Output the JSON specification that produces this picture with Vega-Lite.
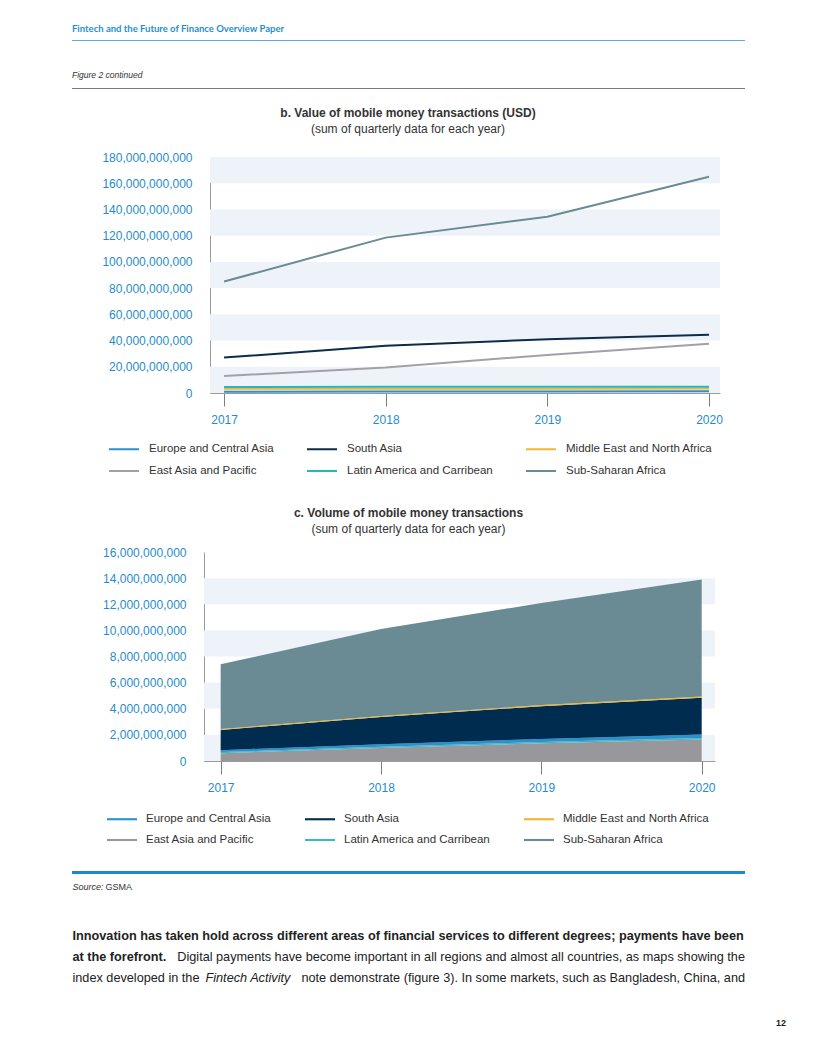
{
  "$schema": "https://vega.github.io/schema/vega-lite/v6.json",
  "background": "white",
  "padding": {"left": 72, "top": 23, "right": 4, "bottom": 4},
  "spacing": 0,
  "bounds": "flush",
  "resolve": {"scale": {"color": "independent"}, "legend": {"color": "independent"}},
  "config": {
    "font": "Liberation Sans",
    "view": {"stroke": null},
    "axisX": {"domainColor": "#9b9b9b", "tickColor": "#7d7d7d", "tickSize": 13, "grid": false, "labelColor": "#1f8ccb", "labelFontSize": 12, "labelPadding": 8, "labelFlush": false},
    "axisY": {"domainColor": "#9b9b9b", "ticks": false, "tickSize": 0, "grid": false, "labelColor": "#1f8ccb", "labelFontSize": 12, "labelPadding": 18},
    "legend": {"symbolSize": 900, "labelFontSize": 11.5, "labelColor": "#333333", "labelOffset": 9, "columnPadding": 28, "rowPadding": -8}
  },
  "datasets": {
    "value_usd": [
      {"region": "Europe and Central Asia", "year": 2017, "value": 1000000000},
      {"region": "Europe and Central Asia", "year": 2018, "value": 1100000000},
      {"region": "Europe and Central Asia", "year": 2019, "value": 1200000000},
      {"region": "Europe and Central Asia", "year": 2020, "value": 1300000000},
      {"region": "South Asia", "year": 2017, "value": 27000000000},
      {"region": "South Asia", "year": 2018, "value": 36000000000},
      {"region": "South Asia", "year": 2019, "value": 41000000000},
      {"region": "South Asia", "year": 2020, "value": 44500000000},
      {"region": "Middle East and North Africa", "year": 2017, "value": 3200000000},
      {"region": "Middle East and North Africa", "year": 2018, "value": 3300000000},
      {"region": "Middle East and North Africa", "year": 2019, "value": 3300000000},
      {"region": "Middle East and North Africa", "year": 2020, "value": 3400000000},
      {"region": "East Asia and Pacific", "year": 2017, "value": 13000000000},
      {"region": "East Asia and Pacific", "year": 2018, "value": 19500000000},
      {"region": "East Asia and Pacific", "year": 2019, "value": 29000000000},
      {"region": "East Asia and Pacific", "year": 2020, "value": 37500000000},
      {"region": "Latin America and Carribean", "year": 2017, "value": 4600000000},
      {"region": "Latin America and Carribean", "year": 2018, "value": 4700000000},
      {"region": "Latin America and Carribean", "year": 2019, "value": 4700000000},
      {"region": "Latin America and Carribean", "year": 2020, "value": 4800000000},
      {"region": "Sub-Saharan Africa", "year": 2017, "value": 85000000000},
      {"region": "Sub-Saharan Africa", "year": 2018, "value": 118500000000},
      {"region": "Sub-Saharan Africa", "year": 2019, "value": 134500000000},
      {"region": "Sub-Saharan Africa", "year": 2020, "value": 165000000000}
    ],
    "volume": [
      {"region": "East Asia and Pacific", "year": 2017, "value": 600000000},
      {"region": "East Asia and Pacific", "year": 2018, "value": 1000000000},
      {"region": "East Asia and Pacific", "year": 2019, "value": 1350000000},
      {"region": "East Asia and Pacific", "year": 2020, "value": 1650000000},
      {"region": "Latin America and Carribean", "year": 2017, "value": 80000000},
      {"region": "Latin America and Carribean", "year": 2018, "value": 90000000},
      {"region": "Latin America and Carribean", "year": 2019, "value": 100000000},
      {"region": "Latin America and Carribean", "year": 2020, "value": 110000000},
      {"region": "Europe and Central Asia", "year": 2017, "value": 150000000},
      {"region": "Europe and Central Asia", "year": 2018, "value": 200000000},
      {"region": "Europe and Central Asia", "year": 2019, "value": 230000000},
      {"region": "Europe and Central Asia", "year": 2020, "value": 260000000},
      {"region": "South Asia", "year": 2017, "value": 1550000000},
      {"region": "South Asia", "year": 2018, "value": 2070000000},
      {"region": "South Asia", "year": 2019, "value": 2520000000},
      {"region": "South Asia", "year": 2020, "value": 2830000000},
      {"region": "Middle East and North Africa", "year": 2017, "value": 70000000},
      {"region": "Middle East and North Africa", "year": 2018, "value": 80000000},
      {"region": "Middle East and North Africa", "year": 2019, "value": 80000000},
      {"region": "Middle East and North Africa", "year": 2020, "value": 90000000},
      {"region": "Sub-Saharan Africa", "year": 2017, "value": 4950000000},
      {"region": "Sub-Saharan Africa", "year": 2018, "value": 6660000000},
      {"region": "Sub-Saharan Africa", "year": 2019, "value": 7820000000},
      {"region": "Sub-Saharan Africa", "year": 2020, "value": 8950000000}
    ],
    "stack_seq": [
      {"region": "East Asia and Pacific", "seq": 1},
      {"region": "Latin America and Carribean", "seq": 2},
      {"region": "Europe and Central Asia", "seq": 3},
      {"region": "South Asia", "seq": 4},
      {"region": "Middle East and North Africa", "seq": 5},
      {"region": "Sub-Saharan Africa", "seq": 6}
    ],
    "bands_b": [
      {"lo": 0, "hi": 20000000000},
      {"lo": 40000000000, "hi": 60000000000},
      {"lo": 80000000000, "hi": 100000000000},
      {"lo": 120000000000, "hi": 140000000000},
      {"lo": 160000000000, "hi": 180000000000}
    ],
    "bands_c": [
      {"lo": 0, "hi": 2000000000},
      {"lo": 4000000000, "hi": 6000000000},
      {"lo": 8000000000, "hi": 10000000000},
      {"lo": 12000000000, "hi": 14000000000}
    ]
  },
  "vconcat": [
    {
      "width": 673, "height": 1,
      "view": {"fill": "#5aaadf", "stroke": null},
      "title": {"text": "Fintech and the Future of Finance Overview Paper", "anchor": "start", "font": "Lato", "fontSize": 9.5, "fontWeight": "bold", "color": "#1f8fd0", "offset": 7},
      "data": {"values": []},
      "mark": "point"
    },
    {"width": 1, "height": 47, "data": {"values": []}, "mark": "point"},
    {
      "width": 673, "height": 1,
      "view": {"fill": "#7a7a7a", "stroke": null},
      "title": {"text": "Figure 2 continued", "anchor": "start", "fontSize": 8.5, "fontStyle": "italic", "fontWeight": "normal", "color": "#333333", "offset": 9},
      "data": {"values": []},
      "mark": "point"
    },
    {"width": 1, "height": 68, "data": {"values": []}, "mark": "point"},
    {
      "spacing": 0,
      "bounds": "flush",
      "resolve": {"scale": {"color": "independent"}, "legend": {"color": "independent"}},
      "hconcat": [
        {"width": 138, "height": 1, "data": {"values": []}, "mark": "point"},
        {
          "width": 510, "height": 236,
          "title": {"text": "b. Value of mobile money transactions (USD)", "subtitle": "(sum of quarterly data for each year)", "anchor": "middle", "dx": -57, "fontSize": 12, "fontWeight": "bold", "color": "#333333", "subtitleFontSize": 12, "subtitleColor": "#333333", "subtitlePadding": 4, "offset": 15},
          "layer": [
            {
              "data": {"name": "bands_b"},
              "mark": {"type": "rect", "color": "#eef3fa"},
              "encoding": {
                "y": {"field": "lo", "type": "quantitative", "scale": {"domain": [0, 180000000000], "nice": false}, "axis": {"values": [0, 20000000000, 40000000000, 60000000000, 80000000000, 100000000000, 120000000000, 140000000000, 160000000000, 180000000000], "format": ",.0f", "title": null}},
                "y2": {"field": "hi"}
              }
            },
            {
              "data": {"name": "value_usd"},
              "mark": {"type": "line", "strokeWidth": 2},
              "encoding": {
                "x": {"field": "year", "type": "quantitative", "scale": {"domain": [2016.913, 2020.068], "nice": false, "zero": false}, "axis": {"values": [2017, 2018, 2019, 2020], "format": "d", "title": null}},
                "y": {"field": "value", "type": "quantitative", "scale": {"domain": [0, 180000000000], "nice": false}, "axis": {"values": [0, 20000000000, 40000000000, 60000000000, 80000000000, 100000000000, 120000000000, 140000000000, 160000000000, 180000000000], "format": ",.0f", "title": null}},
                "color": {
                  "field": "region", "type": "nominal",
                  "scale": {"domain": ["Europe and Central Asia", "South Asia", "Middle East and North Africa", "East Asia and Pacific", "Latin America and Carribean", "Sub-Saharan Africa"], "range": ["#2b8fd2", "#0c2c4a", "#f4b730", "#a2a2a6", "#2ab5b8", "#6a8b93"]},
                  "legend": {"title": null, "orient": "none", "legendX": -102, "legendY": 276, "columns": 3, "direction": "horizontal", "symbolType": "stroke", "symbolStrokeWidth": 2}
                }
              }
            }
          ]
        }
      ]
    },
    {"width": 1, "height": 395, "data": {"values": []}, "mark": "point"},
    {
      "spacing": 0,
      "bounds": "flush",
      "resolve": {"scale": {"color": "independent"}, "legend": {"color": "independent"}},
      "hconcat": [
        {"width": 132, "height": 1, "data": {"values": []}, "mark": "point"},
        {
          "width": 511, "height": 209,
          "title": {"text": "c. Volume of mobile money transactions", "subtitle": "(sum of quarterly data for each year)", "anchor": "middle", "dx": -51, "fontSize": 12, "fontWeight": "bold", "color": "#333333", "subtitleFontSize": 12, "subtitleColor": "#333333", "subtitlePadding": 4, "offset": 10},
          "layer": [
            {
              "data": {"name": "bands_c"},
              "mark": {"type": "rect", "color": "#eef3fa"},
              "encoding": {
                "y": {"field": "lo", "type": "quantitative", "scale": {"domain": [0, 16000000000], "nice": false}, "axis": {"values": [0, 2000000000, 4000000000, 6000000000, 8000000000, 10000000000, 12000000000, 14000000000, 16000000000], "format": ",.0f", "title": null}},
                "y2": {"field": "hi"}
              }
            },
            {
              "data": {"name": "volume"},
              "transform": [{"lookup": "region", "from": {"data": {"name": "stack_seq"}, "key": "region", "fields": ["seq"]}}],
              "mark": {"type": "area"},
              "encoding": {
                "x": {"field": "year", "type": "quantitative", "scale": {"domain": [2016.896, 2020.083], "nice": false, "zero": false}, "axis": {"values": [2017, 2018, 2019, 2020], "format": "d", "title": null}},
                "y": {"field": "value", "type": "quantitative", "stack": "zero", "scale": {"domain": [0, 16000000000], "nice": false}, "axis": {"values": [0, 2000000000, 4000000000, 6000000000, 8000000000, 10000000000, 12000000000, 14000000000, 16000000000], "format": ",.0f", "title": null}},
                "order": {"field": "seq", "type": "quantitative", "sort": "ascending"},
                "color": {
                  "field": "region", "type": "nominal",
                  "scale": {"domain": ["Europe and Central Asia", "South Asia", "Middle East and North Africa", "East Asia and Pacific", "Latin America and Carribean", "Sub-Saharan Africa"], "range": ["#2a90d0", "#002c4f", "#f2b52e", "#98989c", "#3cbac0", "#6a8b93"]},
                  "legend": {"title": null, "orient": "none", "legendX": -97, "legendY": 252, "columns": 3, "direction": "horizontal", "symbolType": "M-1,-0.07H1V0.07H-1Z", "symbolStrokeWidth": 0, "columnPadding": 33, "rowPadding": -4}
                }
              }
            }
          ]
        }
      ]
    },
    {"width": 1, "height": 319, "data": {"values": []}, "mark": "point"},
    {
      "width": 673, "height": 3,
      "view": {"fill": "#1a8ad0", "stroke": null},
      "data": {"values": []},
      "mark": "point"
    },
    {
      "width": 1, "height": 26,
      "layer": [
        {"data": {"values": [{"t": "Source:"}]}, "mark": {"type": "text", "align": "left", "baseline": "middle", "fontSize": 9, "fontStyle": "italic", "color": "#333333"}, "encoding": {"text": {"field": "t"}}},
        {"data": {"values": [{"t": "GSMA"}]}, "mark": {"type": "text", "align": "left", "baseline": "middle", "fontSize": 9, "dx": 33, "color": "#333333"}, "encoding": {"text": {"field": "t"}}}
      ]
    },
    {"width": 1, "height": 25, "data": {"values": []}, "mark": "point"},
    {
      "width": 1, "height": 21,
      "data": {"values": [{"t": "Innovation has taken hold across different areas of financial services to different degrees; payments have been"}]},
      "mark": {"type": "text", "align": "left", "baseline": "middle", "fontSize": 12.7, "fontWeight": "bold", "color": "#222222"},
      "encoding": {"text": {"field": "t"}}
    },
    {
      "width": 1, "height": 21,
      "layer": [
        {"data": {"values": [{"t": "at the forefront."}]}, "mark": {"type": "text", "align": "left", "baseline": "middle", "fontSize": 12.7, "fontWeight": "bold", "color": "#222222"}, "encoding": {"text": {"field": "t"}}},
        {"data": {"values": [{"t": "Digital payments have become important in all regions and almost all countries, as maps showing the"}]}, "mark": {"type": "text", "align": "right", "baseline": "middle", "fontSize": 12.7, "dx": 672.5, "color": "#222222"}, "encoding": {"text": {"field": "t"}}}
      ]
    },
    {
      "width": 1, "height": 21,
      "layer": [
        {"data": {"values": [{"t": "index developed in the"}]}, "mark": {"type": "text", "align": "left", "baseline": "middle", "fontSize": 12.7, "color": "#222222"}, "encoding": {"text": {"field": "t"}}},
        {"data": {"values": [{"t": "Fintech Activity"}]}, "mark": {"type": "text", "align": "left", "baseline": "middle", "fontSize": 12.7, "fontStyle": "italic", "dx": 133, "color": "#222222"}, "encoding": {"text": {"field": "t"}}},
        {"data": {"values": [{"t": "note demonstrate (figure 3). In some markets, such as Bangladesh, China, and"}]}, "mark": {"type": "text", "align": "right", "baseline": "middle", "fontSize": 12.7, "dx": 672.5, "color": "#222222"}, "encoding": {"text": {"field": "t"}}}
      ]
    },
    {"width": 1, "height": 25, "data": {"values": []}, "mark": "point"},
    {
      "width": 1, "height": 20,
      "data": {"values": [{"t": "12"}]},
      "mark": {"type": "text", "align": "right", "baseline": "middle", "fontSize": 9, "fontWeight": "bold", "dx": 713.5, "color": "#222222"},
      "encoding": {"text": {"field": "t"}}
    }
  ]
}
